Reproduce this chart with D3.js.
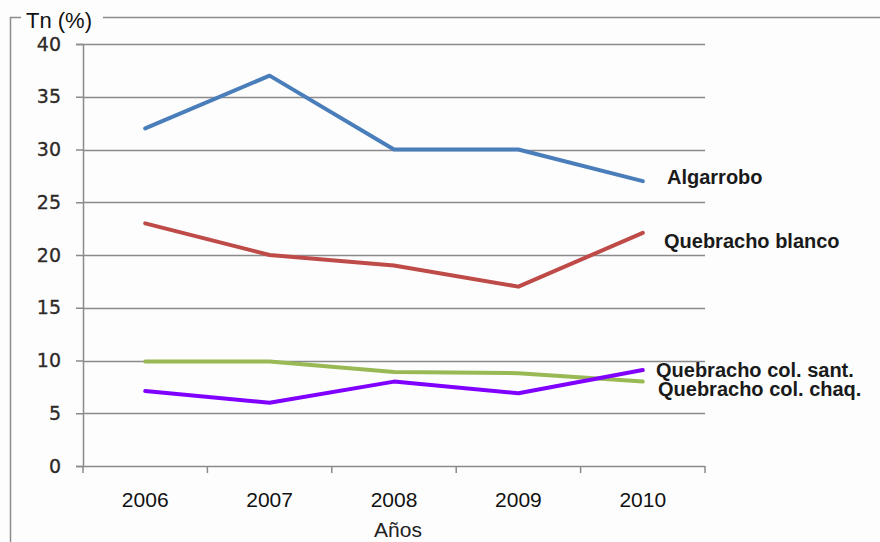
<!DOCTYPE html>
<html><head><meta charset="utf-8">
<script src="https://cdn.jsdelivr.net/npm/d3@7"></script>
<style>html,body{margin:0;padding:0;background:#fdfdfd;}svg{display:block;}</style>
</head><body>
<svg id="c" width="880" height="542"></svg>
<script>
const years = ["2006","2007","2008","2009","2010"];
const yTicks = [0,5,10,15,20,25,30,35,40];
const algarrobo = [32, 37, 30, 30, 27];
const quebrachoBlanco = [23, 20, 19, 17, 22.1];
const quebrachoColSant = [7.1, 6, 8, 6.9, 9.1];
const quebrachoColChaq = [9.9, 9.9, 8.9, 8.8, 8.0];
const seriesNames = ["Algarrobo","Quebracho blanco","Quebracho col. sant.","Quebracho col. chaq."];
const seriesColors = ["#4a7ebb","#be4b48","#8000ff","#98b954"];
const yTitle = "Tn (%)";
const xTitle = "Años";

const series = [
  {name: seriesNames[0], values: algarrobo, color: seriesColors[0], lx: 667, ly: 184},
  {name: seriesNames[1], values: quebrachoBlanco, color: seriesColors[1], lx: 664, ly: 248},
  {name: seriesNames[3], values: quebrachoColChaq, color: seriesColors[3], lx: 658, ly: 396},
  {name: seriesNames[2], values: quebrachoColSant, color: seriesColors[2], lx: 656, ly: 377}
];

const svg = d3.select("#c");
const L = 83, R = 705, T = 44, B = 466;

// outer frame
svg.append("path")
  .attr("d", "M880,17.5 H103 M21,17.5 H10.5 V542")
  .attr("fill","none").attr("stroke","#8c8c8c").attr("stroke-width",1.5);
svg.append("text").attr("x",26).attr("y",28)
  .attr("font-family","Liberation Sans, Arial, sans-serif").attr("font-size",22)
  .attr("fill","#111").text(yTitle);

const x = d3.scaleBand().domain(years).range([L, R]);
const y = d3.scaleLinear().domain([0,40]).range([B, T]);

// gridlines
svg.append("g").selectAll("line").data(yTicks.filter(d=>d>0)).join("line")
  .attr("x1", L).attr("x2", R)
  .attr("y1", d=>Math.round(y(d))+0.5).attr("y2", d=>Math.round(y(d))+0.5)
  .attr("stroke","#8a8a8a").attr("stroke-width",1.5);

// y axis
const ya = svg.append("g").attr("transform",`translate(${L},0)`)
  .call(d3.axisLeft(y).tickValues(yTicks).tickSize(7).tickPadding(15));
ya.select(".domain").attr("stroke","#8a8a8a").attr("stroke-width",1.5);
ya.selectAll(".tick line").attr("stroke","#8a8a8a").attr("stroke-width",1.5);
ya.selectAll(".tick text").attr("font-family","DejaVu Sans, Verdana, sans-serif")
  .attr("font-size",19).attr("fill","#2e2a28")
  .attr("stroke","#2e2a28").attr("stroke-width",0.3);

// x axis
const xa = svg.append("g").attr("transform",`translate(0,${B})`)
  .call(d3.axisBottom(x).tickSize(0).tickPadding(41));
xa.select(".domain").remove();
xa.append("line").attr("x1",L).attr("x2",R).attr("y1",0.5).attr("y2",0.5)
  .attr("stroke","#8a8a8a").attr("stroke-width",1.5);
xa.selectAll(".bnd").data(d3.range(years.length+1)).join("line").attr("class","bnd")
  .attr("x1", i=>L + i*x.bandwidth()).attr("x2", i=>L + i*x.bandwidth())
  .attr("y1",0).attr("y2",7).attr("stroke","#8a8a8a").attr("stroke-width",1.5);
xa.selectAll(".tick text").attr("font-family","Liberation Sans, Arial, sans-serif")
  .attr("font-size",21).attr("fill","#111").attr("dy","0");

svg.append("text").attr("x",398).attr("y",537).attr("text-anchor","middle")
  .attr("font-family","Liberation Sans, Arial, sans-serif").attr("font-size",21)
  .attr("fill","#222").text(xTitle);

// lines
const line = d3.line().x((d,i)=>x(years[i])+x.bandwidth()/2).y(d=>y(d));
series.forEach(s=>{
  svg.append("path").datum(s.values).attr("d", line)
    .attr("fill","none").attr("stroke", s.color).attr("stroke-width",4)
    .attr("stroke-linejoin","round").attr("stroke-linecap","round");
});
series.forEach(s=>{
  svg.append("text").attr("x", s.lx).attr("y", s.ly)
    .attr("font-family","Liberation Sans, Arial, sans-serif").attr("font-weight","bold")
    .attr("font-size",20).attr("fill","#1a1a1a").text(s.name);
});
</script>
</body></html>
